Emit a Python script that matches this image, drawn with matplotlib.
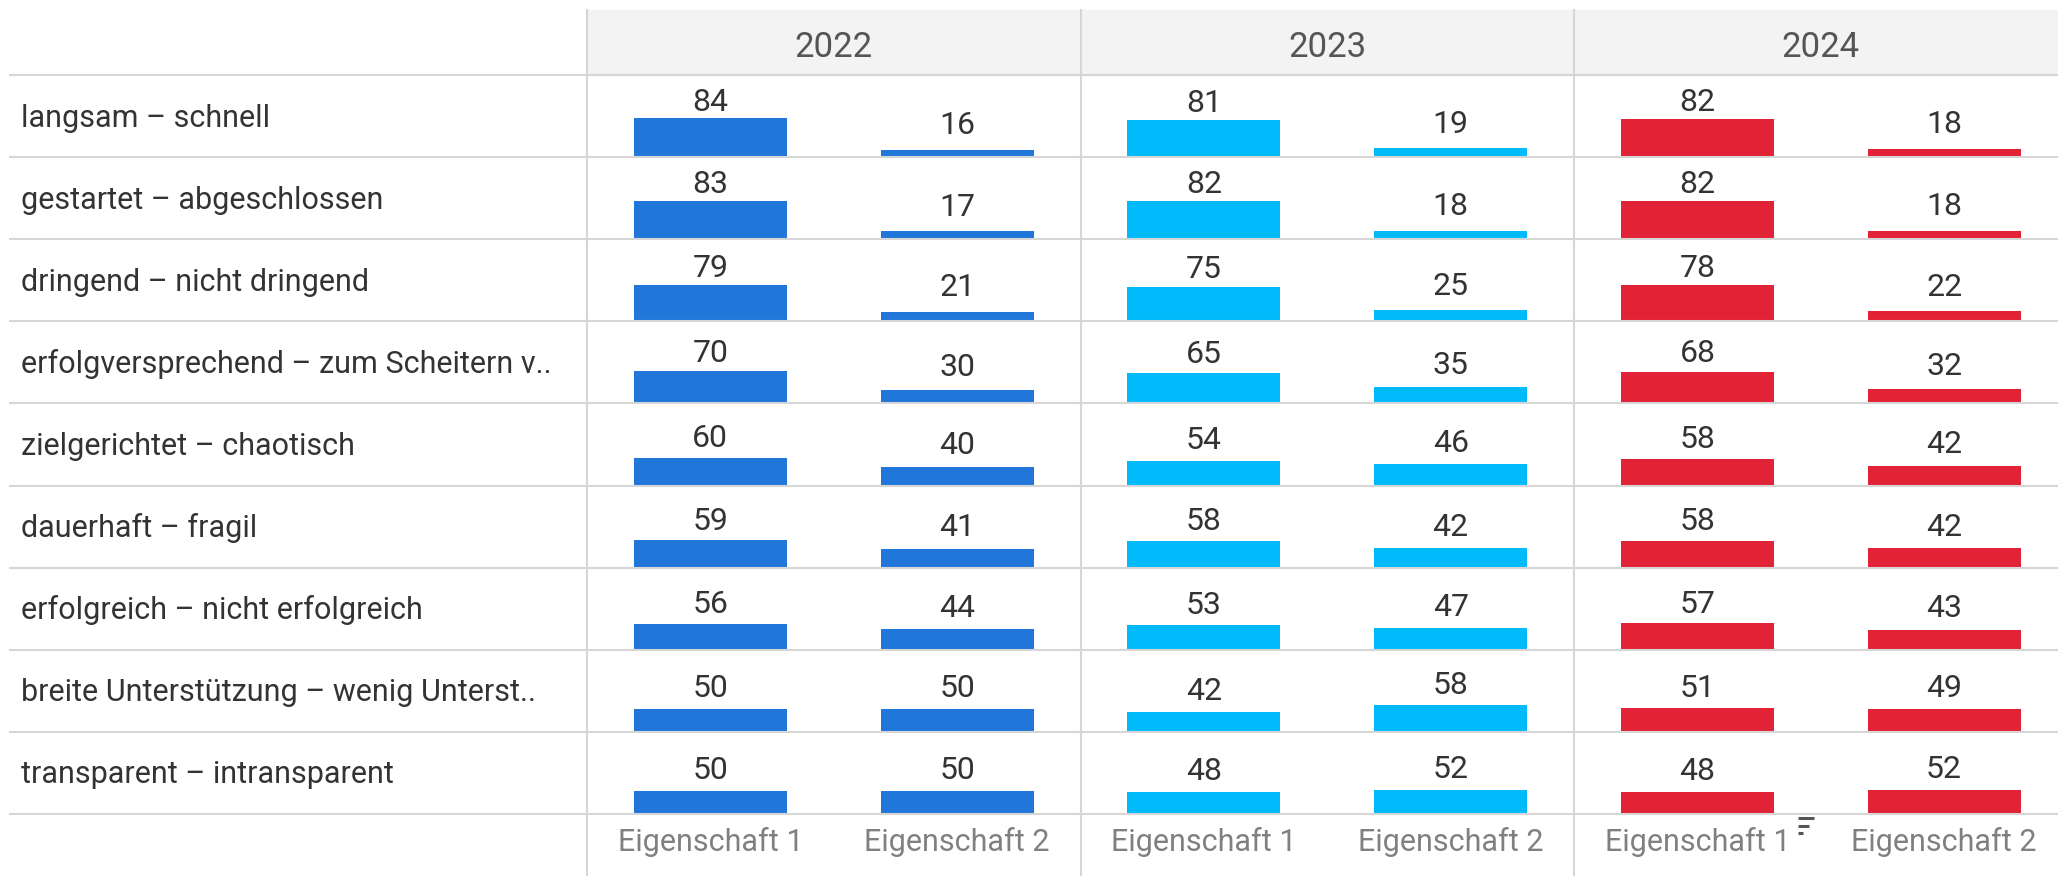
import matplotlib.pyplot as plt
from matplotlib.lines import Line2D
from matplotlib.patches import Rectangle

plt.rcParams['font.family'] = ['Roboto', 'DejaVu Sans']

rows = [
    "langsam – schnell",
    "gestartet – abgeschlossen",
    "dringend – nicht dringend",
    "erfolgversprechend – zum Scheitern v..",
    "zielgerichtet – chaotisch",
    "dauerhaft – fragil",
    "erfolgreich – nicht erfolgreich",
    "breite Unterstützung – wenig Unterst..",
    "transparent – intransparent",
]
years = ["2022", "2023", "2024"]
props = ["Eigenschaft 1", "Eigenschaft 2"]

e1_2022 = [84, 83, 79, 70, 60, 59, 56, 50, 50]
e2_2022 = [16, 17, 21, 30, 40, 41, 44, 50, 50]
e1_2023 = [81, 82, 75, 65, 54, 58, 53, 42, 48]
e2_2023 = [19, 18, 25, 35, 46, 42, 47, 58, 52]
e1_2024 = [82, 82, 78, 68, 58, 58, 57, 51, 48]
e2_2024 = [18, 18, 22, 32, 42, 42, 43, 49, 52]

series = {
    "2022": (e1_2022, e2_2022),
    "2023": (e1_2023, e2_2023),
    "2024": (e1_2024, e2_2024),
}
colors = {"2022": "#2176d9", "2023": "#00bafc", "2024": "#e22236"}

W, H = 2058, 876
fig = plt.figure(figsize=(W / 100, H / 100), dpi=100)

left = 587
col_w = 493.5
head_top = 10
head_bot = 75
row_h = 82.1
grid_c = "#d6d6d6"


def fx(x):
    return x / W


def fy(y):
    return 1 - y / H


# header band
fig.add_artist(Rectangle((fx(left), fy(head_bot)), fx(W - left), (head_bot - head_top) / H,
                         transform=fig.transFigure, color="#f3f3f3", zorder=0))

for j, yr in enumerate(years):
    x0 = left + j * col_w
    fig.text(fx(x0 + col_w / 2), fy(57), yr,
             ha="center", va="baseline", fontsize=25, color="#555555")
    e1, e2 = series[yr]
    for i in range(len(rows)):
        y0 = head_bot + (i + 1) * row_h
        ax = fig.add_axes([fx(x0), fy(y0), col_w / W, row_h / H])
        vals = [e1[i], e2[i]]
        ax.bar([0, 1], vals, width=0.62, color=colors[yr])
        for k, v in enumerate(vals):
            # label gap shrinks a bit as the bar grows (as in the source tool)
            gap = (17.6 - 0.118 * v) * 0.72
            ax.annotate(str(v), (k, v), xytext=(0, gap), textcoords="offset points",
                        ha="center", va="baseline", fontsize=23, color="#333333")
        ax.set_xlim(-0.5, 1.5)
        ax.set_ylim(0, 178)
        ax.axis("off")
    # x labels
    for k, p in enumerate(props):
        xc = x0 + col_w * (0.25 + 0.5 * k)
        fig.text(fx(xc), fy(851), p, ha="center", va="baseline", fontsize=22, color="#808080")

# row labels
for i, r in enumerate(rows):
    yc = head_bot + (i + 0.5) * row_h
    fig.text(fx(21), fy(yc + 10.5), r, ha="left", va="baseline", fontsize=22, color="#333333")

# grid lines
for i in range(len(rows) + 1):
    y = head_bot + i * row_h
    fig.add_artist(Line2D([fx(10), 1], [fy(y), fy(y)], transform=fig.transFigure,
                          color=grid_c, lw=1.5))
for j in range(4):
    x = left + j * col_w
    fig.add_artist(Line2D([fx(x), fx(x)], [fy(head_top), 0], transform=fig.transFigure,
                          color=grid_c, lw=1.5))

# sort indicator next to 2024 / Eigenschaft 1
for y, ln in [(818, 16), (825.5, 11), (833, 5)]:
    fig.add_artist(Line2D([fx(1798), fx(1798 + ln)], [fy(y), fy(y)], transform=fig.transFigure,
                          color="#555555", lw=2.2, solid_capstyle="butt"))

fig.savefig("out.png", dpi=100)
